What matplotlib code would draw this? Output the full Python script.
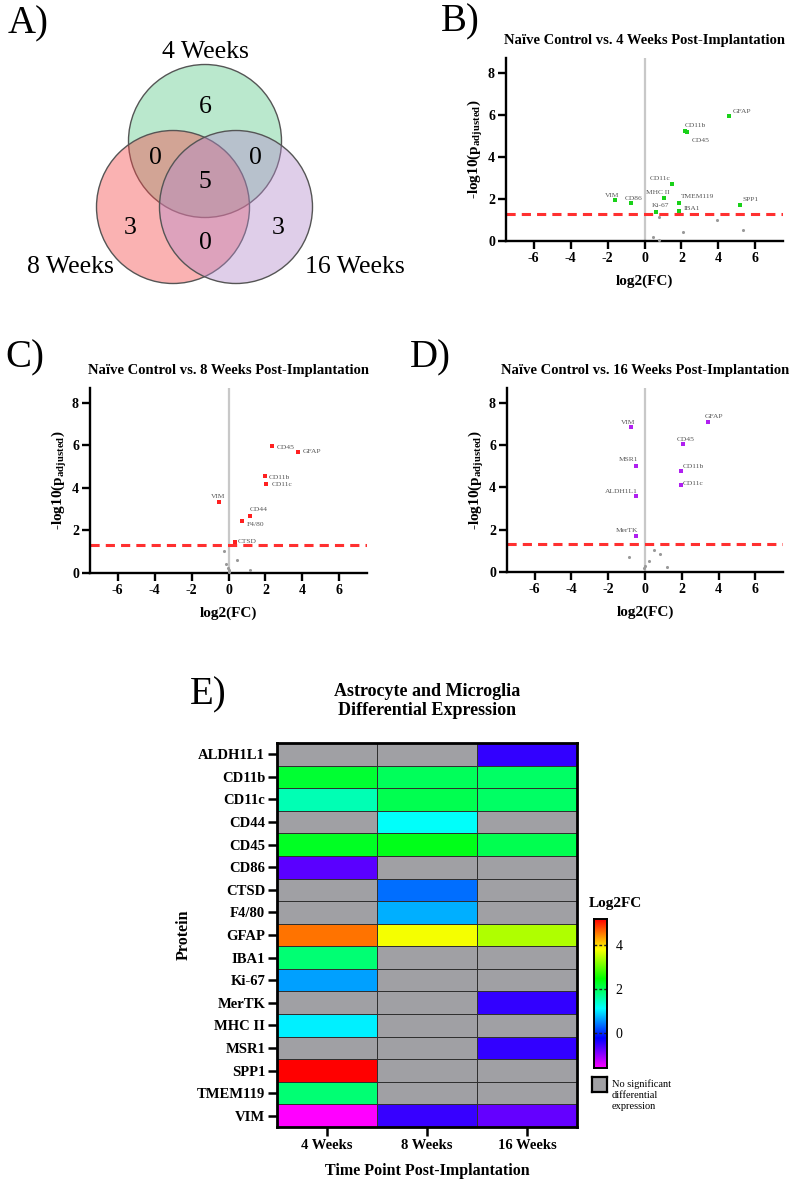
import numpy as np
import matplotlib
matplotlib.use("Agg")
import matplotlib.pyplot as plt
from matplotlib.colors import ListedColormap, hsv_to_rgb
from matplotlib.patches import Circle

plt.rcParams['font.family'] = ['Liberation Serif', 'DejaVu Serif']
plt.rcParams['mathtext.fontset'] = 'custom'
plt.rcParams['mathtext.rm'] = 'Liberation Serif'
plt.rcParams['mathtext.bf'] = 'Liberation Serif:bold'
plt.rcParams['axes.unicode_minus'] = False

# ---------------- data ----------------
venn_labels = ["4 Weeks", "8 Weeks", "16 Weeks"]
venn_counts = {"4": 6, "8": 3, "16": 3, "4&8": 0, "4&16": 0, "8&16": 0, "all": 5}

wk4_labels = ["GFAP", "CD11b", "CD45", "CD11c", "MHC II", "TMEM119", "IBA1", "Ki-67", "VIM", "CD86", "SPP1"]
wk4_fc = [4.58, 2.2, 2.3, 1.51, 1.05, 1.87, 1.87, 0.63, -1.6, -0.72, 5.19]
wk4_p = [5.96, 5.25, 5.2, 2.69, 2.04, 1.82, 1.45, 1.39, 1.94, 1.80, 1.72]
wk4_ns_fc = [0.77, 3.95, 2.09, 5.33, 0.45, 0.79]
wk4_ns_p = [1.15, 1.0, 0.41, 0.54, 0.2, 0.05]

wk8_labels = ["CD45", "GFAP", "CD11b", "CD11c", "VIM", "CD44", "F4/80", "CTSD"]
wk8_fc = [2.34, 3.79, 1.99, 2.05, -0.53, 1.14, 0.71, 0.36]
wk8_p = [5.96, 5.68, 4.55, 4.2, 3.36, 2.70, 2.45, 1.44]
wk8_ns_fc = [-0.22, -0.13, 0.47, -0.04, 0.05, 1.14, 0.02]
wk8_ns_p = [1.02, 0.44, 0.6, 0.24, 0.16, 0.13, 0.05]

wk16_labels = ["GFAP", "VIM", "CD45", "MSR1", "CD11b", "CD11c", "ALDH1L1", "MerTK"]
wk16_fc = [3.42, -0.76, 2.05, -0.49, 1.94, 1.94, -0.49, -0.49]
wk16_p = [7.11, 6.85, 6.04, 5.03, 4.78, 4.10, 3.58, 1.69]
wk16_ns_fc = [-0.89, 0.51, 0.8, 0.2, 0.02, 1.2, -0.07]
wk16_ns_p = [0.71, 1.06, 0.85, 0.5, 0.27, 0.24, 0.19]

proteins = ["ALDH1L1", "CD11b", "CD11c", "CD44", "CD45", "CD86", "CTSD", "F4/80", "GFAP",
            "IBA1", "Ki-67", "MerTK", "MHC II", "MSR1", "SPP1", "TMEM119", "VIM"]
timepoints = ["4 Weeks", "8 Weeks", "16 Weeks"]
p_threshold = 1.301

# ---------------- styles ----------------
label_offsets_4 = {"GFAP": (4, 4, 'left'), "CD11b": (0, 5, 'left'), "CD45": (5, -9, 'left'),
                   "CD11c": (-2, 6, 'right'), "MHC II": (6, 6, 'right'), "TMEM119": (2, 6, 'left'),
                   "IBA1": (5, 2, 'left'), "Ki-67": (-4, 6, 'left'), "VIM": (4, 5, 'right'),
                   "CD86": (-6, 5, 'left'), "SPP1": (2, 5, 'left')}
label_offsets_8 = {"CD45": (5, -1, 'left'), "GFAP": (4, 1, 'left'), "CD11b": (4, -1, 'left'),
                   "CD11c": (5, -1, 'left'), "VIM": (7, 5, 'right'), "CD44": (0, 6, 'left'),
                   "F4/80": (5, -4, 'left'), "CTSD": (3, 1, 'left')}
label_offsets_16 = {"GFAP": (-3, 5, 'left'), "VIM": (4, 5, 'right'), "CD45": (-6, 5, 'left'),
                    "MSR1": (2, 6, 'right'), "CD11b": (2, 4, 'left'), "CD11c": (2, 2, 'left'),
                    "ALDH1L1": (2, 5, 'right'), "MerTK": (2, 6, 'right')}

W, H = 800, 1187
fig = plt.figure(figsize=(W / 100, H / 100), dpi=100)


def fa(l, t, r, b):
    return [l / W, 1 - b / H, (r - l) / W, (b - t) / H]


# ---------------- Venn ----------------
axv = fig.add_axes([0, 1 - 300 / H, 420 / W, 300 / H])
axv.set_xlim(0, 420)
axv.set_ylim(300, 0)
axv.axis('off')
circ = [((205, 141), '#5cc98a'), ((173, 207), '#f44848'), ((236, 207), '#b58ccc')]
for (c, col) in circ:
    axv.add_patch(Circle(c, 76.5, facecolor=col, alpha=0.42, edgecolor='none'))
    axv.add_patch(Circle(c, 76.5, facecolor='none', edgecolor='#555555', lw=1.0))
vt = dict(fontsize=18.5, ha='center', va='center')
axv.text(205, 52, venn_labels[0], **vt)
axv.text(70, 267, venn_labels[1], **vt)
axv.text(355, 267, venn_labels[2], **vt)
for key, pos in [("4", (205, 107)), ("4&8", (155, 158)), ("4&16", (255, 158)),
                 ("all", (205, 182)), ("8", (130, 228)), ("16", (278, 228)), ("8&16", (205, 243))]:
    axv.text(pos[0], pos[1], str(venn_counts[key]), **vt)

letter = dict(fontsize=28, va='center', ha='left')
fig.text(8 / W, 1 - 24 / H, "A)", **letter)


# ---------------- Volcano ----------------
def volcano(rect, title, labels, fc, p, nsx, nsy, color, offsets):
    ax = fig.add_axes(rect)
    ax.set_xlim(-7.5, 7.5)
    ax.set_ylim(0, 8.7)
    ax.axvline(0, color='#c8c8c8', lw=1.6, zorder=1)
    ax.axhline(p_threshold, color='#ff3030', lw=2.2, ls=(0, (3, 2)), zorder=2)
    ax.scatter(nsx, nsy, s=5, color='#999999', marker='o', zorder=3, linewidths=0)
    ax.scatter(fc, p, s=10, color=color, marker='s', zorder=4, linewidths=0)
    for lab, x, y in zip(labels, fc, p):
        dx, dy, ha = offsets[lab]
        ax.annotate(lab, (x, y), xytext=(dx, dy), textcoords='offset pixels',
                    fontsize=5.4, color='#555555', ha=ha, va='center')
    for s in ['top', 'right']:
        ax.spines[s].set_visible(False)
    for s in ['left', 'bottom']:
        ax.spines[s].set_linewidth(1.7)
    ax.set_xticks([-6, -4, -2, 0, 2, 4, 6])
    ax.set_yticks([0, 2, 4, 6, 8])
    ax.tick_params(width=1.7, length=5.5, labelsize=10, pad=2.5)
    for t in ax.get_xticklabels() + ax.get_yticklabels():
        t.set_fontweight('bold')
    ax.set_xlabel('log2(FC)', fontsize=11, fontweight='bold', labelpad=7)
    ax.set_ylabel(r'-log10(p$_{\mathbf{adjusted}}$)', fontsize=11, fontweight='bold', labelpad=2)
    ax.set_title(title, fontsize=10.5, fontweight='bold', pad=10)
    return ax


volcano(fa(506, 58, 783, 241), "Naïve Control vs. 4 Weeks Post-Implantation",
        wk4_labels, wk4_fc, wk4_p, wk4_ns_fc, wk4_ns_p, '#19d119', label_offsets_4)
volcano(fa(90, 388, 367, 573), "Naïve Control vs. 8 Weeks Post-Implantation",
        wk8_labels, wk8_fc, wk8_p, wk8_ns_fc, wk8_ns_p, '#ff2020', label_offsets_8)
volcano(fa(507, 388, 783, 572), "Naïve Control vs. 16 Weeks Post-Implantation",
        wk16_labels, wk16_fc, wk16_p, wk16_ns_fc, wk16_ns_p, '#b020f0', label_offsets_16)
fig.text(441 / W, 1 - 22 / H, "B)", **letter)
fig.text(5 / W, 1 - 358 / H, "C)", **letter)
fig.text(410 / W, 1 - 358 / H, "D)", **letter)

# ---------------- Heatmap ----------------
lookup = [dict(zip(wk4_labels, wk4_fc)), dict(zip(wk8_labels, wk8_fc)), dict(zip(wk16_labels, wk16_fc))]
mat = np.array([[lk.get(pr, np.nan) for lk in lookup] for pr in proteins])

hues = np.linspace(300 / 360, 0, 256)
cmap = ListedColormap(hsv_to_rgb(np.stack([hues, np.ones(256), np.ones(256)], axis=1)))
cmap.set_bad('#a0a0a4')
vmin, vmax = -1.6, 5.2

axh = fig.add_axes(fa(277, 743, 577, 1127))
axh.pcolormesh(np.ma.masked_invalid(mat), cmap=cmap, vmin=vmin, vmax=vmax,
               edgecolors='#303030', linewidth=0.7)
axh.set_xlim(0, 3)
axh.set_ylim(len(proteins), 0)
axh.set_xticks(np.arange(3) + 0.5)
axh.set_xticklabels(timepoints)
axh.set_yticks(np.arange(len(proteins)) + 0.5)
axh.set_yticklabels(proteins)
axh.tick_params(width=1.8, length=6.5, labelsize=10.5, pad=2)
for t in axh.get_xticklabels() + axh.get_yticklabels():
    t.set_fontweight('bold')
for s in axh.spines.values():
    s.set_linewidth(2)
axh.set_xlabel('Time Point Post-Implantation', fontsize=11.5, fontweight='bold', labelpad=8)
axh.set_ylabel('Protein', fontsize=11.5, fontweight='bold', labelpad=4)
axh.set_title('Astrocyte and Microglia\nDifferential Expression', fontsize=13,
              fontweight='bold', pad=20, linespacing=1.15)
fig.text(190 / W, 1 - 695 / H, "E)", **letter)

# colorbar
axc = fig.add_axes(fa(594, 919, 607, 1068))
grad = np.linspace(vmin, vmax, 256).reshape(-1, 1)
axc.imshow(grad, cmap=cmap, aspect='auto', origin='lower', extent=[0, 1, vmin, vmax])
axc.set_xticks([])
axc.yaxis.tick_right()
axc.set_yticks([0, 2, 4])
axc.tick_params(length=0, labelsize=10, pad=6)
for v in [0, 2, 4]:
    axc.axhline(v, color='#222222', lw=1.0, ls=(0, (2, 1.5)))
for s in axc.spines.values():
    s.set_linewidth(1.4)
fig.text(589 / W, 1 - 903 / H, "Log2FC", fontsize=11, fontweight='bold', va='center', ha='left')
axl = fig.add_axes(fa(592, 1077, 607, 1092))
axl.set_facecolor('#a0a0a4')
axl.set_xticks([])
axl.set_yticks([])
for s in axl.spines.values():
    s.set_linewidth(1.6)
fig.text(612 / W, 1 - 1095 / H, "No significant\ndifferential\nexpression", fontsize=7.5,
         va='center', ha='left', linespacing=1.25)

fig.savefig('out.png', dpi=100)
